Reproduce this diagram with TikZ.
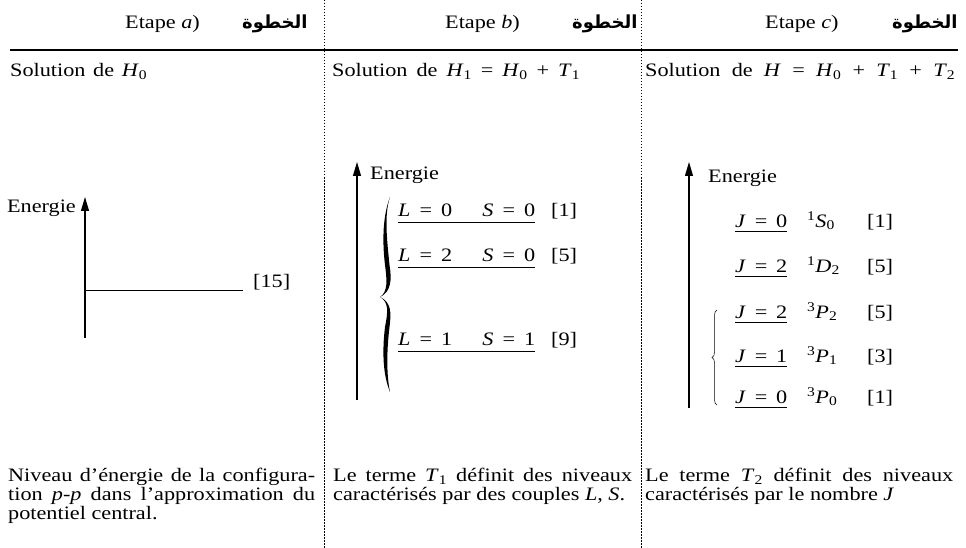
\documentclass[tikz,border=0pt]{standalone}
\usepackage{fontspec}
\setmainfont{Liberation Serif}[FakeStretch=1.17]
\newfontfamily\arabicfont[Script=Arabic]{DejaVu Sans}
\TeXXeTstate=1
\usetikzlibrary{arrows.meta,decorations.pathreplacing}
\tikzset{
  txt/.style={inner sep=0pt, font=\fontsize{19}{19}\selectfont},
  arab/.style={inner sep=0pt, font=\fontsize{18}{18}\selectfont\arabicfont\bfseries},
  axisline/.style={line width=1.1pt, -{Triangle[length=14pt,width=8pt]}},
  lvl/.style={line width=0.9pt},
  rule/.style={line width=1.4pt},
  sepline/.style={line width=0.7pt, dash pattern=on 1.5pt off 1.5pt},
  para/.style={txt, anchor=north west, align=justify},
}
\hyphenpenalty=10000
\begin{document}
\begin{tikzpicture}[x=1pt,y=-1pt]
\useasboundingbox[fill=white] (0,0) rectangle (966,548);
% separators
\coordinate (s1t) at (324,0); \coordinate (s1b) at (324,548);
\coordinate (s2t) at (641,0); \coordinate (s2b) at (641,548);
\draw[sepline] (s1t) -- (s1b);
\draw[sepline] (s2t) -- (s2b);
\coordinate (r0) at (10,50); \coordinate (r1) at (958,50);
\draw[rule] (r0) -- (r1);
% headers
\node[txt, anchor=base west] (ha) at (125,29) {Etape \textit{a})};
\node[arab, anchor=base west] (aa) at (242,29) {\beginR الخطوة\endR};
\node[txt, anchor=base west] (hb) at (445,29) {Etape \textit{b})};
\node[arab, anchor=base west] (ab) at (572,29) {\beginR الخطوة\endR};
\node[txt, anchor=base west] (hc) at (765,29) {Etape \textit{c})};
\node[arab, anchor=base west] (ac) at (892,29) {\beginR الخطوة\endR};
% solution lines
\node[txt, anchor=base west] (sa) at (10,77) {\makebox[137pt][s]{Solution de \textit{H}\textsubscript{0}}};
\node[txt, anchor=base west] (sb) at (332,77) {\makebox[248pt][s]{Solution de \textit{H}\textsubscript{1} = \textit{H}\textsubscript{0} + \textit{T}\textsubscript{1}}};
\node[txt, anchor=base west] (sc) at (645,77) {\makebox[310pt][s]{Solution de \textit{H} = \textit{H}\textsubscript{0} + \textit{T}\textsubscript{1} + \textit{T}\textsubscript{2}}};
% column a
\coordinate (a0) at (85,338); \coordinate (a1) at (85,197);
\draw[axisline] (a0) -- (a1);
\node[txt, anchor=east] (ea) at (76,208) {Energie};
\coordinate (h0) at (85,290); \coordinate (h1) at (243,290);
\draw[lvl] (h0) -- (h1);
\node[txt, anchor=base west] (d15) at (253,287) {[15]};
% column b
\coordinate (b0) at (357,400); \coordinate (b1) at (357,162);
\draw[axisline] (b0) -- (b1);
\node[txt, anchor=base west] (eb) at (370,180) {Energie};
\foreach \n/\yy/\l/\s/\g in {1/216/0/0/1, 2/261/2/0/5, 3/345/1/1/9}{
  \node[txt, anchor=base west] (lb\n) at (398,\yy) {\makebox[137pt]{\textit{L}\hspace{9pt}=\hspace{9pt}\l\hfill\textit{S}\hspace{9pt}=\hspace{9pt}\s}};
  \draw[lvl] ([yshift=-6.5pt]lb\n.base west) -- ([yshift=-6.5pt]lb\n.base east);
  \node[txt, anchor=base west] (gb\n) at (551,\yy) {[\g]};
}
\fill (390,197) .. controls (383,215) and (382,240) .. (385,265)
  .. controls (387,280) and (388,292) .. (380,297)
  .. controls (391,292) and (392,280) .. (389.5,265)
  .. controls (387,240) and (384,215) .. (390,197) -- cycle;
\fill (380,297) .. controls (389,302) and (388,312) .. (385,327)
  .. controls (382,352) and (383,375) .. (390,392)
  .. controls (386.5,375) and (386.5,352) .. (389.5,327)
  .. controls (391.5,312) and (391,302) .. (380,297) -- cycle;
% column c
\coordinate (c0) at (689,408); \coordinate (c1) at (689,162);
\draw[axisline] (c0) -- (c1);
\node[txt, anchor=base west] (ec) at (708,183) {Energie};
\foreach \n/\yy/\j/\sup/\L/\sub/\g in {1/227/0/1/S/0/1, 2/272/2/1/D/2/5, 3/318/2/3/P/2/5, 4/362/1/3/P/1/3, 5/403/0/3/P/0/1}{
  \node[txt, anchor=base west] (jc\n) at (735,\yy) {\makebox[52pt][s]{\textit{J} = \j}};
  \draw[lvl] ([yshift=-4pt]jc\n.base west) -- ([yshift=-4pt]jc\n.base east);
  \node[txt, anchor=base west] (tc\n) at (807,\yy) {\textsuperscript{\sup}\textit{\L}\textsubscript{\sub}};
  \node[txt, anchor=base west] (gc\n) at (867,\yy) {[\g]};
}
\coordinate (k0) at (717,405); \coordinate (k1) at (717,310);
\draw[line width=0.5pt, decorate, decoration={brace, amplitude=5pt}] (k0) -- (k1);
% bottom paragraphs
\node[para, text width=307pt] (pa) at (8,468) {Niveau d'énergie de la configura-\linebreak tion \textit{p-p} dans l'approximation du\linebreak potentiel central.};
\node[para, text width=299pt] (pb) at (333,468) {Le terme \textit{T}\textsubscript{1} définit des niveaux\linebreak caractérisés par des couples \textit{L}, \textit{S}.};
\node[para, text width=308pt] (pc) at (645,468) {Le terme \textit{T}\textsubscript{2} définit des niveaux\linebreak caractérisés par le nombre \textit{J}};
\end{tikzpicture}
\end{document}
